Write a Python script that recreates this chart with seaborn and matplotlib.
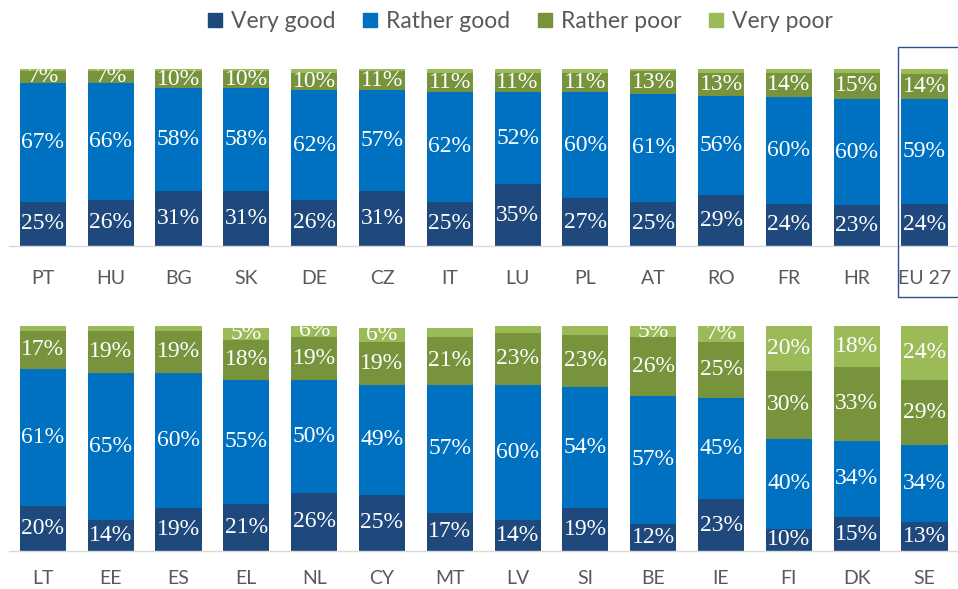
# Stacked bars: perceived quality by country, two rows of 14 countries
import pandas as pd
import matplotlib.pyplot as plt
import matplotlib.patches as patches
from matplotlib.lines import Line2D
import seaborn as sns

# Top row data
top_countries = ['PT', 'HU', 'BG', 'SK', 'DE', 'CZ', 'IT', 'LU', 'PL', 'AT', 'RO', 'FR', 'HR', 'EU 27']
top_very_good = [25, 26, 31, 31, 26, 31, 25, 35, 27, 25, 29, 24, 23, 24]
top_rather_good = [67, 66, 58, 58, 62, 57, 62, 52, 60, 61, 56, 60, 60, 59]
top_rather_poor = [7, 7, 10, 10, 10, 11, 11, 11, 11, 13, 13, 14, 15, 14]
top_very_poor = [1, 1, 1, 1, 2, 1, 2, 2, 2, 1, 2, 2, 2, 3]

# Bottom row data
bot_countries = ['LT', 'EE', 'ES', 'EL', 'NL', 'CY', 'MT', 'LV', 'SI', 'BE', 'IE', 'FI', 'DK', 'SE']
bot_very_good = [20, 14, 19, 21, 26, 25, 17, 14, 19, 12, 23, 10, 15, 13]
bot_rather_good = [61, 65, 60, 55, 50, 49, 57, 60, 54, 57, 45, 40, 34, 34]
bot_rather_poor = [17, 19, 19, 18, 19, 19, 21, 23, 23, 26, 25, 30, 33, 29]
bot_very_poor = [2, 2, 2, 5, 6, 6, 4, 3, 4, 5, 7, 20, 18, 24]

series = ['Very good', 'Rather good', 'Rather poor', 'Very poor']
colors = ['#1F497D', '#0070C0', '#77933C', '#9BBB59']

sns.set_style('white')
plt.rcParams['font.family'] = ['Lato', 'DejaVu Sans']

fig = plt.figure(figsize=(9.58, 5.89), dpi=100)
ax_top = fig.add_axes([0.0094, 343 / 589, 0.991, 177 / 589])
ax_bot = fig.add_axes([0.0094, 38 / 589, 0.991, 225 / 589])


def draw_row(ax, countries, vals, pad):
    df = pd.DataFrame({'country': countries})
    for name, v in zip(series, vals):
        df[name] = v
    cum = df[series].cumsum(axis=1)
    # draw from the full stack down so the lower segments sit in front
    for i in range(len(series) - 1, -1, -1):
        sns.barplot(x=df['country'], y=cum[series[i]], order=countries, color=colors[i],
                    saturation=1, width=0.68, errorbar=None, linewidth=0, ax=ax)
    # value labels in the middle of each segment
    for i, name in enumerate(series):
        mids = cum[name] - df[name] / 2
        for j, (v, m) in enumerate(zip(df[name], mids)):
            if v >= 5:
                ax.text(j, m, f'{v}%', ha='center', va='center', color='white',
                        fontsize=17, family=['Liberation Serif'])
    ax.set_xlim(-0.5, len(countries) - 0.5)
    ax.set_ylim(0, 100)
    ax.set_xlabel('')
    ax.set_ylabel('')
    ax.set_yticks([])
    ax.tick_params(axis='x', length=0, pad=pad, labelsize=14, labelcolor='#595959')
    sns.despine(ax=ax, left=True, top=True, right=True)
    ax.spines['bottom'].set_color('#D9D9D9')
    ax.spines['bottom'].set_linewidth(1)
    ax.patch.set_alpha(0)


draw_row(ax_top, top_countries, [top_very_good, top_rather_good, top_rather_poor, top_very_poor], 17)
draw_row(ax_bot, bot_countries, [bot_very_good, bot_rather_good, bot_rather_poor, bot_very_poor], 14)

# Highlight box around EU 27
fig.add_artist(patches.Rectangle((898 / 958, 1 - 297 / 589), 0.08, 250 / 589,
                                 transform=fig.transFigure, fill=False,
                                 edgecolor='#2F4F8F', linewidth=1))

# Legend
handles = [Line2D([], [], marker='s', linestyle='', markersize=10, color=c) for c in colors]
fig.legend(handles, series, loc='center', bbox_to_anchor=(0.542, 1 - 22 / 589), ncol=4,
           frameon=False, fontsize=16.5, labelcolor='#595959', handletextpad=0.3,
           handlelength=0.8, columnspacing=1.1)

plt.savefig('out.png', dpi=100)
